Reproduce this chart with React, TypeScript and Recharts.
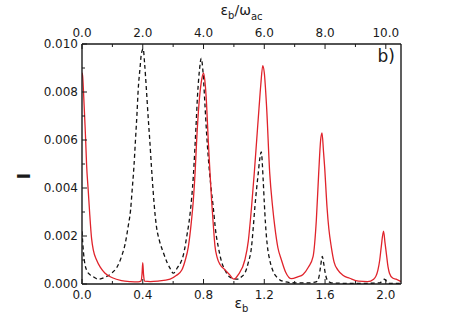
import React from "react";
import { LineChart, Line, XAxis, YAxis } from "recharts";

// red solid curve: eps_b -> I
const redEps = [
  0, 0.005, 0.01, 0.02, 0.024, 0.03, 0.041, 0.05, 0.063, 0.075, 0.096, 0.12, 0.15, 0.2, 0.26, 0.32,
  0.37, 0.388, 0.395, 0.4, 0.405, 0.412, 0.45, 0.5, 0.58, 0.62, 0.657, 0.68, 0.7, 0.72, 0.733,
  0.745, 0.755, 0.77, 0.785, 0.8, 0.81, 0.82, 0.831, 0.842, 0.853, 0.864, 0.875, 0.89, 0.91, 0.94,
  0.97, 1.0, 1.03, 1.072, 1.095, 1.116, 1.135, 1.15, 1.165, 1.177, 1.19, 1.2, 1.215, 1.236, 1.255,
  1.269, 1.29, 1.313, 1.34, 1.379, 1.42, 1.455, 1.49, 1.521, 1.543, 1.558, 1.571, 1.58, 1.59,
  1.597, 1.613, 1.625, 1.641, 1.66, 1.685, 1.72, 1.762, 1.82, 1.88, 1.92, 1.948, 1.96, 1.97,
  1.985, 1.995, 2.003, 2.015, 2.024, 2.045, 2.068, 2.1,
];
const redI = [
  0.0088, 0.0086, 0.008, 0.0066, 0.006, 0.005, 0.0039, 0.003, 0.0019, 0.0014, 0.001, 0.0007,
  0.00046, 0.00026, 0.00014, 0.0001, 0.00009, 0.00012, 0.0004, 0.00089, 0.0004, 0.00012, 0.0001,
  0.00012, 0.0002, 0.00035, 0.00058, 0.001, 0.00155, 0.0026, 0.0035, 0.0047, 0.006, 0.0075,
  0.0084, 0.0088, 0.0084, 0.0075, 0.006, 0.0047, 0.0035, 0.0025, 0.0016, 0.0011, 0.0008, 0.0006,
  0.0004, 0.0002, 0.0004, 0.001, 0.0018, 0.0032, 0.0047, 0.006, 0.0073, 0.0083, 0.0091, 0.0088,
  0.0074, 0.0046, 0.0032, 0.0024, 0.0015, 0.001, 0.0005, 0.00022, 0.0003, 0.0004, 0.0007,
  0.00114, 0.0027, 0.0046, 0.006, 0.0063, 0.0055, 0.0049, 0.0032, 0.0023, 0.00155, 0.0009,
  0.00058, 0.00035, 0.00024, 0.00012, 0.0001, 0.0002, 0.00058, 0.001, 0.00155, 0.0022, 0.0017,
  0.0013, 0.0007, 0.00045, 0.00025, 0.0002, 0.0001,
];

// black dashed curve: eps_b -> I
const dashEps = [
  0, 0.005, 0.01, 0.02, 0.03, 0.05, 0.074, 0.107, 0.15, 0.195, 0.23, 0.26, 0.285, 0.304, 0.32,
  0.33, 0.342, 0.352, 0.362, 0.37, 0.382, 0.391, 0.403, 0.412, 0.424, 0.435, 0.446, 0.457, 0.468,
  0.481, 0.49, 0.51, 0.536, 0.56, 0.58, 0.601, 0.63, 0.65, 0.667, 0.69, 0.711, 0.733, 0.75, 0.761,
  0.773, 0.785, 0.797, 0.81, 0.82, 0.831, 0.848, 0.864, 0.88, 0.897, 0.92, 0.941, 0.97, 1.0, 1.03,
  1.05, 1.072, 1.095, 1.116, 1.128, 1.138, 1.15, 1.16, 1.17, 1.18, 1.193, 1.2, 1.208, 1.22, 1.236,
  1.26, 1.29, 1.33, 1.4, 1.5, 1.545, 1.56, 1.57, 1.582, 1.59, 1.6, 1.612, 1.64, 1.8, 1.96, 1.98,
  1.99, 2.0, 2.02, 2.1,
];
const dashI = [
  0.0022, 0.0017, 0.0013, 0.0008, 0.00058, 0.0004, 0.0003, 0.0002, 0.00028, 0.00045, 0.0007,
  0.00114, 0.0017, 0.0024, 0.0031, 0.0039, 0.0049, 0.006, 0.0071, 0.0081, 0.009, 0.0096, 0.0098,
  0.0092, 0.0081, 0.007, 0.006, 0.0049, 0.0039, 0.0029, 0.0024, 0.0018, 0.0013, 0.0009, 0.00065,
  0.00045, 0.0007, 0.0009, 0.0012, 0.002, 0.0029, 0.0045, 0.0065, 0.0079, 0.0089, 0.0094, 0.0088,
  0.0074, 0.0063, 0.0053, 0.0041, 0.0032, 0.0022, 0.00155, 0.0009, 0.00058, 0.0003, 0.00022,
  0.0002, 0.0003, 0.00045, 0.0009, 0.00155, 0.0024, 0.0032, 0.004, 0.0046, 0.0052, 0.0055,
  0.0043, 0.0034, 0.0025, 0.0016, 0.001, 0.0005, 0.00024, 0.0001, 0.00005, 0.00005, 0.0001,
  0.0003, 0.0007, 0.00115, 0.0009, 0.0005, 0.0002, 0.00005, 0.00002, 0.00005, 0.00015, 0.0002,
  0.00015, 0.00003, 0.00002,
];

const xMajor = [0, 0.4, 0.8, 1.2, 1.6, 2.0];
const xMinor = [0.2, 0.6, 1.0, 1.4, 1.8];
const topLabels = ["0.0", "2.0", "4.0", "6.0", "8.0", "10.0"];
const yMajor = [0, 0.002, 0.004, 0.006, 0.008, 0.01];
const yMinor = [0.001, 0.003, 0.005, 0.007, 0.009];

const redData = redEps.map((e, i) => ({ eps: e, I: redI[i] }));
const dashData = dashEps.map((e, i) => ({ eps: e, I: dashI[i] }));

const W = 457;
const H = 319;
const FONT = "'DejaVu Sans', sans-serif";
const INK = "#1a1a1a";

const BottomTick = (props: any) => {
  const { x, y, payload } = props;
  const idx = xMajor.indexOf(payload.value);
  return (
    <g>
      <line x1={x} x2={x} y1={y} y2={y - (idx >= 0 ? 5 : 3)} stroke={INK} strokeWidth={1} />
      {idx >= 0 && (
        <text x={x} y={y + 15} textAnchor="middle" fontSize={12} fontFamily={FONT} fill={INK}>
          {payload.value.toFixed(1)}
        </text>
      )}
    </g>
  );
};

const TopTick = (props: any) => {
  const { x, y, payload } = props;
  const idx = xMajor.indexOf(payload.value);
  return (
    <g>
      <line x1={x} x2={x} y1={y} y2={y + (idx >= 0 ? 5 : 3)} stroke={INK} strokeWidth={1} />
      {idx >= 0 && (
        <text x={x} y={y - 7} textAnchor="middle" fontSize={12} fontFamily={FONT} fill={INK}>
          {topLabels[idx]}
        </text>
      )}
    </g>
  );
};

const LeftTick = (props: any) => {
  const { x, y, payload } = props;
  const idx = yMajor.indexOf(payload.value);
  return (
    <g>
      <line x1={x} x2={x + (idx >= 0 ? 5 : 3)} y1={y} y2={y} stroke={INK} strokeWidth={1} />
      {idx >= 0 && (
        <text x={x - 4} y={y + 4.3} textAnchor="end" fontSize={12} fontFamily={FONT} fill={INK}>
          {payload.value.toFixed(3)}
        </text>
      )}
    </g>
  );
};

export default function App() {
  return (
    <div style={{ position: "absolute", left: 0, top: 0, width: W, height: H, background: "#fff" }}>
      <LineChart width={W} height={H} margin={{ top: 14, right: 55, bottom: 5, left: 22 }}>
        <XAxis
          dataKey="eps"
          type="number"
          domain={[0, 2.1]}
          allowDataOverflow
          ticks={[...xMajor, ...xMinor]}
          interval={0}
          height={30}
          tickSize={0}
          tickMargin={0}
          tick={<BottomTick />}
          tickLine={false}
          axisLine={{ stroke: INK, strokeWidth: 1.4 }}
        />
        <XAxis
          xAxisId="top"
          orientation="top"
          dataKey="eps"
          type="number"
          domain={[0, 2.1]}
          allowDataOverflow
          ticks={[...xMajor, ...xMinor]}
          interval={0}
          height={30}
          tickSize={0}
          tickMargin={0}
          tick={<TopTick />}
          tickLine={false}
          axisLine={{ stroke: INK, strokeWidth: 1.4 }}
        />
        <YAxis
          type="number"
          domain={[0, 0.01]}
          allowDataOverflow
          ticks={[...yMajor, ...yMinor]}
          interval={0}
          width={60}
          tickSize={0}
          tickMargin={0}
          tick={<LeftTick />}
          tickLine={false}
          axisLine={{ stroke: INK, strokeWidth: 1.4 }}
        />
        <YAxis
          yAxisId="right"
          orientation="right"
          type="number"
          domain={[0, 0.01]}
          width={1}
          tick={false}
          tickLine={false}
          axisLine={{ stroke: INK, strokeWidth: 1.4 }}
        />
        <Line
          data={dashData}
          dataKey="I"
          type="monotone"
          stroke="#111"
          strokeWidth={1.3}
          strokeDasharray="4 3"
          dot={false}
          isAnimationActive={false}
        />
        <Line
          data={redData}
          dataKey="I"
          type="monotone"
          stroke="#e0232b"
          strokeWidth={1.3}
          dot={false}
          isAnimationActive={false}
        />
      </LineChart>
      <svg
        width={W}
        height={H}
        style={{ position: "absolute", left: 0, top: 0, pointerEvents: "none" }}
        fontFamily={FONT}
        fill={INK}
      >
        <text x={241.5} y={15} textAnchor="middle" fontSize={14}>
          ε<tspan fontSize={10} dy={4}>b</tspan>
          <tspan dy={-4}>/ω</tspan>
          <tspan fontSize={10} dy={5}>ac</tspan>
        </text>
        <text x={241.5} y={308} textAnchor="middle" fontSize={14}>
          ε<tspan fontSize={10} dy={4}>b</tspan>
        </text>
        <text
          x={23.5}
          y={176}
          textAnchor="middle"
          dominantBaseline="central"
          fontSize={17}
          fontWeight="bold"
          transform="rotate(-90 23.5 176)"
        >
          I
        </text>
        <text x={395} y={62} textAnchor="end" fontSize={17}>
          b)
        </text>
      </svg>
    </div>
  );
}
